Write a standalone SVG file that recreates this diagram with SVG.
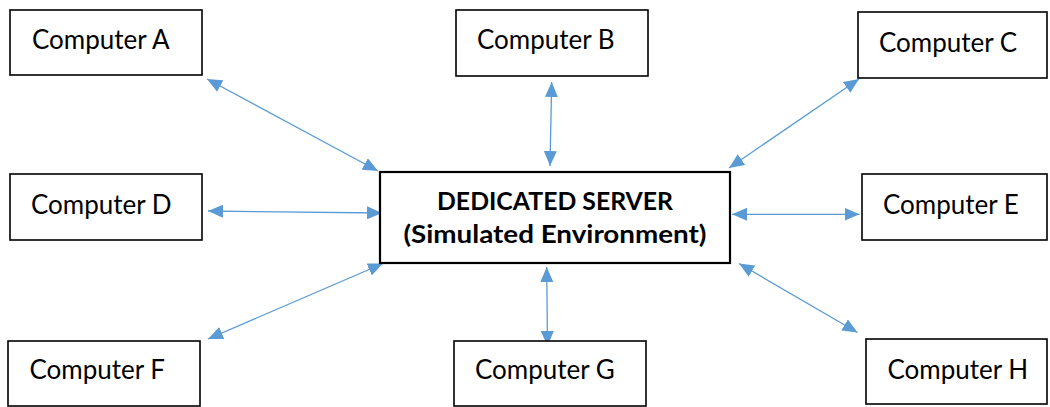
<svg xmlns="http://www.w3.org/2000/svg" width="1050" height="407" viewBox="0 0 1050 407">
<style>
.box{fill:#fff;stroke:#000;stroke-width:1.6}
.srv{fill:#fff;stroke:#000;stroke-width:2.2}
.lbl{font-family:Lato,"Liberation Sans",sans-serif;font-size:26px;fill:#000}
.bold{font-family:Lato,"Liberation Sans",sans-serif;font-size:25px;font-weight:bold;fill:#000;text-anchor:middle}
.con{stroke:#5B9BD5;stroke-width:1.3;fill:none;marker-start:url(#ah);marker-end:url(#ah)}
</style>
<defs>
<marker id="ah" markerUnits="userSpaceOnUse" markerWidth="15" markerHeight="13" refX="15" refY="6.5" orient="auto-start-reverse" viewBox="0 0 15 13">
<path d="M0,0 L15,6.5 L0,13 z" fill="#5B9BD5"/>
</marker>
</defs>
<rect width="1050" height="407" fill="#fff"/>
<g id="connectors">
<line class="con" x1="207" y1="79" x2="378" y2="171"/>
<line class="con" x1="551.7" y1="82" x2="550" y2="166"/>
<line class="con" x1="859" y1="79" x2="729" y2="168"/>
<line class="con" x1="208" y1="211" x2="382" y2="213"/>
<line class="con" x1="732" y1="214.3" x2="859.5" y2="214.3"/>
<line class="con" x1="383" y1="263.5" x2="208" y2="339"/>
<line class="con" x1="546.7" y1="267" x2="547.5" y2="346"/>
<line class="con" x1="739" y1="263.5" x2="857.5" y2="332.5"/>
</g>
<g id="server">
<rect class="srv" x="380" y="172" width="350" height="91"/>
<text class="bold" x="555" y="209.5" textLength="236" lengthAdjust="spacingAndGlyphs">DEDICATED SERVER</text>
<text class="bold" x="555" y="243" textLength="303" lengthAdjust="spacingAndGlyphs">(Simulated Environment)</text>
</g>
<g id="computer-a">
<rect class="box" x="10" y="10" width="192" height="65"/>
<text class="lbl" x="32" y="48.5">Computer A</text>
</g>
<g id="computer-b">
<rect class="box" x="456" y="10" width="192" height="66"/>
<text class="lbl" x="477" y="49">Computer B</text>
</g>
<g id="computer-c">
<rect class="box" x="858" y="12" width="189" height="66"/>
<text class="lbl" x="879" y="51.5">Computer C</text>
</g>
<g id="computer-d">
<rect class="box" x="10" y="174" width="192" height="66"/>
<text class="lbl" x="31" y="213.5">Computer D</text>
</g>
<g id="computer-e">
<rect class="box" x="862" y="174" width="185" height="66"/>
<text class="lbl" x="883" y="213.5">Computer E</text>
</g>
<g id="computer-f">
<rect class="box" x="8" y="341" width="192" height="65"/>
<text class="lbl" x="29.5" y="379">Computer F</text>
</g>
<g id="computer-g">
<rect class="box" x="454" y="341" width="192" height="65"/>
<text class="lbl" x="475" y="379">Computer G</text>
</g>
<g id="computer-h">
<rect class="box" x="866" y="339" width="181" height="65"/>
<text class="lbl" x="887.5" y="378.5">Computer H</text>
</g>
</svg>
